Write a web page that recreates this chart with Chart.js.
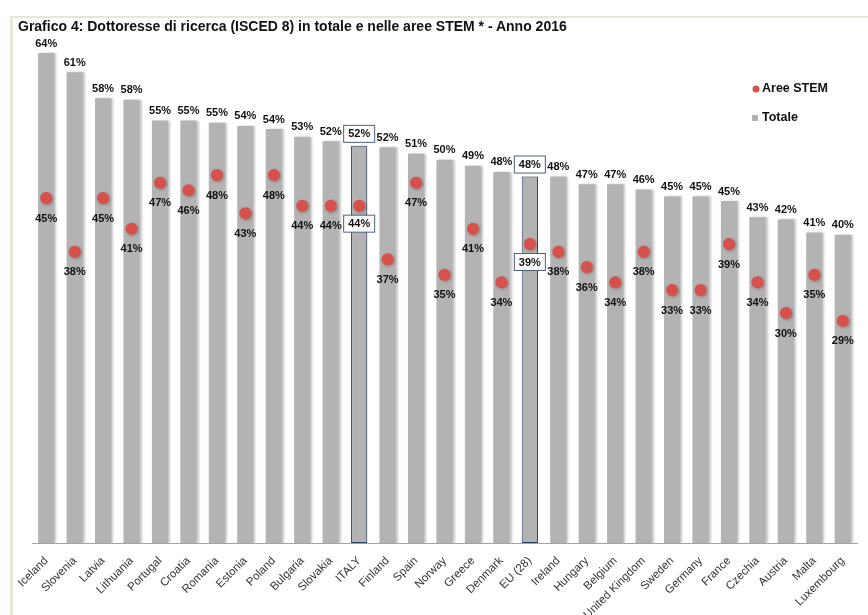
<!DOCTYPE html>
<html>
<head>
<meta charset="utf-8">
<script src="https://cdn.jsdelivr.net/npm/chart.js@4.4.1/dist/chart.umd.min.js"></script>
<style>
  html, body { margin: 0; padding: 0; background: #fff; }
  #wrap { position: relative; width: 868px; height: 615px; overflow: hidden; }
  #frame { position: absolute; left: 10px; top: 16px; right: -4px; bottom: -4px;
           border-top: 2px solid #e8e6d8; border-left: 3px solid #ebe9dc; }
  #title { position: absolute; left: 18px; top: 18px; font: bold 14px "Liberation Sans", Arial, sans-serif;
           color: #111; white-space: nowrap; }
  canvas { position: absolute; left: 0; top: 0; }
</style>
</head>
<body>
<div id="wrap">
  <div id="frame"></div>
  <canvas id="chart" width="868" height="615"></canvas>
  <div id="title">Grafico 4: Dottoresse di ricerca (ISCED 8) in totale e nelle aree STEM * - Anno 2016</div>
</div>
<script>
// Dottoresse di ricerca (ISCED 8), quota % sul totale e nelle aree STEM, anno 2016
const COUNTRIES = ['Iceland', 'Slovenia', 'Latvia', 'Lithuania', 'Portugal', 'Croatia', 'Romania',
  'Estonia', 'Poland', 'Bulgaria', 'Slovakia', 'ITALY', 'Finland', 'Spain', 'Norway', 'Greece',
  'Denmark', 'EU (28)', 'Ireland', 'Hungary', 'Belgium', 'United Kingdom', 'Sweden', 'Germany',
  'France', 'Czechia', 'Austria', 'Malta', 'Luxembourg'];

const TOTALE = [63.9, 61.4, 58.0, 57.8, 55.1, 55.1, 54.8, 54.4, 54.0, 53.0, 52.4, 51.8, 51.6, 50.8,
  50.0, 49.2, 48.4, 47.8, 47.8, 46.8, 46.8, 46.1, 45.2, 45.2, 44.6, 42.5, 42.2, 40.5, 40.2];

const STEM = [45, 38, 45, 41, 47, 46, 48, 43, 48, 44, 44, 44, 37, 47, 35, 41, 34, 39, 38, 36, 34,
  38, 33, 33, 39, 34, 30, 35, 29];

const HIGHLIGHT = ['ITALY', 'EU (28)'];

const COLOR_BAR = '#b3b3b3';
const COLOR_DOT = '#d6514c';
const COLOR_BOX = '#4b5f80';
const FONT = '"Liberation Sans", Arial, sans-serif';

const isHi = i => HIGHLIGHT.includes(COUNTRIES[i]);

// soft drop shadows like the original (bars and dots)
const shadowPlugin = {
  id: 'shadows',
  beforeDatasetDraw(chart, args) {
    const ctx = chart.ctx;
    ctx.save();
    if (args.meta.type === 'bar') {
      ctx.shadowColor = 'rgba(0,0,0,0.22)';
      ctx.shadowBlur = 2;
      ctx.shadowOffsetX = 2;
      ctx.shadowOffsetY = 0;
    } else {
      ctx.shadowColor = 'rgba(90,0,0,0.35)';
      ctx.shadowBlur = 3;
      ctx.shadowOffsetX = 1;
      ctx.shadowOffsetY = 1;
    }
  },
  afterDatasetDraw(chart) { chart.ctx.restore(); }
};

// value labels: totals above bars, STEM under the dots; boxed for ITALY and EU
const labelPlugin = {
  id: 'valueLabels',
  afterDatasetsDraw(chart) {
    const ctx = chart.ctx;
    const dots = chart.getDatasetMeta(0).data;
    const bars = chart.getDatasetMeta(1).data;
    ctx.save();
    ctx.font = 'bold 11px ' + FONT;
    ctx.textAlign = 'center';
    ctx.textBaseline = 'middle';
    const draw = (txt, x, y, boxed) => {
      if (boxed) {
        ctx.fillStyle = '#fff';
        ctx.fillRect(x - 15.5, y - 8.5, 31, 17);
        ctx.strokeStyle = COLOR_BOX;
        ctx.lineWidth = 1;
        ctx.strokeRect(x - 15.5, y - 8.5, 31, 17);
      }
      ctx.fillStyle = '#111';
      ctx.fillText(txt, x, y + 0.5);
    };
    bars.forEach((b, i) => draw(Math.round(TOTALE[i]) + '%', b.x, b.y - (isHi(i) ? 12 : 10), isHi(i)));
    dots.forEach((p, i) => draw(STEM[i] + '%', p.x, p.y + (isHi(i) ? 18 : 20), isHi(i)));
    ctx.restore();
  }
};

// legend in the upper right corner
const legendPlugin = {
  id: 'cornerLegend',
  afterDraw(chart) {
    const ctx = chart.ctx;
    const ds = chart.data.datasets;
    ctx.save();
    ctx.font = 'bold 12.5px ' + FONT;
    ctx.textBaseline = 'middle';
    ctx.fillStyle = ds[0].backgroundColor;
    ctx.beginPath();
    ctx.arc(756, 89, 3.5, 0, Math.PI * 2);
    ctx.fill();
    ctx.fillStyle = ds[1].backgroundColor;
    ctx.fillRect(752, 115, 6, 6);
    ctx.fillStyle = '#111';
    ctx.fillText(ds[0].label, 762, 89);
    ctx.fillText(ds[1].label, 762, 118);
    ctx.restore();
  }
};

new Chart(document.getElementById('chart'), {
  data: {
    labels: COUNTRIES,
    datasets: [
      {
        type: 'line',
        label: 'Aree STEM',
        data: STEM,
        showLine: false,
        backgroundColor: COLOR_DOT,
        borderColor: COLOR_DOT,
        pointRadius: 6,
        pointBorderWidth: 0,
        order: 0
      },
      {
        type: 'bar',
        label: 'Totale',
        data: TOTALE,
        backgroundColor: COLOR_BAR,
        borderColor: COUNTRIES.map((c, i) => isHi(i) ? '#2f4166' : COLOR_BAR),
        borderWidth: COUNTRIES.map((c, i) => isHi(i) ? 1 : 0),
        borderSkipped: false,
        barPercentage: 0.57,
        categoryPercentage: 1,
        order: 1
      }
    ]
  },
  options: {
    responsive: false,
    animation: false,
    layout: { padding: { left: 32, right: 11, top: 37, bottom: 0 } },
    plugins: { legend: { display: false }, title: { display: false }, tooltip: { enabled: false } },
    scales: {
      x: {
        grid: { display: false },
        border: { color: '#a3a3a3', width: 1 },
        ticks: {
          color: '#333',
          font: { family: FONT, size: 11.5 },
          minRotation: 45,
          maxRotation: 45,
          autoSkip: false,
          padding: 3
        },
        afterFit(scale) { scale.height = 72; }
      },
      y: { display: false, min: 0, max: 66 }
    }
  },
  plugins: [shadowPlugin, labelPlugin, legendPlugin]
});
</script>
</body>
</html>
